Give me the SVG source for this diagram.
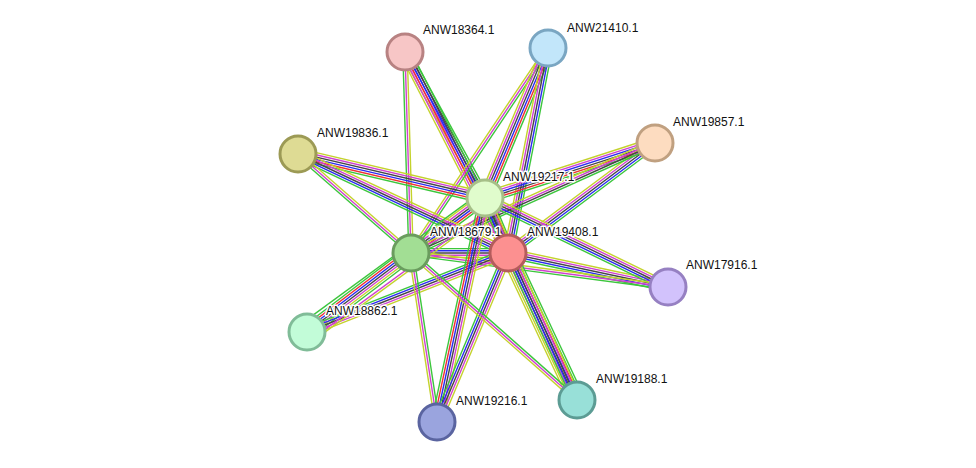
<svg xmlns="http://www.w3.org/2000/svg" width="976" height="468" viewBox="0 0 976 468">
<style>
line{stroke-width:1.4;fill:none}
.g{stroke:#3cc63c}.r{stroke:#f03030}.b{stroke:#2a2af0}.k{stroke:#454545}.m{stroke:#d040d0}.y{stroke:#c4d22c}
circle{stroke-width:3}
text{font-family:"Liberation Sans",Arial,sans-serif;font-size:12px;fill:#111;stroke:#fff;stroke-width:3;paint-order:stroke;stroke-linejoin:round}
</style>
<rect width="976" height="468" fill="#fff"/>
<g id="edges">
<g transform="translate(485,198) rotate(143.4)"><line class="g" x2="92.2" y1="-5.5" y2="-5.5"/><line class="r" x2="92.2" y1="-3.3" y2="-3.3"/><line class="b" x2="92.2" y1="-1.1" y2="-1.1"/><line class="k" x2="92.2" y1="1.1" y2="1.1"/><line class="m" x2="92.2" y1="3.3" y2="3.3"/><line class="y" x2="92.2" y1="5.5" y2="5.5"/></g>
<g transform="translate(485,198) rotate(67.3)"><line class="g" x2="59.6" y1="-6.6" y2="-6.6"/><line class="r" x2="59.6" y1="-4.4" y2="-4.4"/><line class="b" x2="59.6" y1="-2.2" y2="-2.2"/><line class="k" x2="59.6" y1="0" y2="0"/><line class="k" x2="59.6" y1="2.2" y2="2.2"/><line class="m" x2="59.6" y1="4.4" y2="4.4"/><line class="y" x2="59.6" y1="6.6" y2="6.6"/></g>
<g transform="translate(411,253) rotate(0)"><line class="g" x2="97" y1="-4.4" y2="-4.4"/><line class="b" x2="97" y1="-2.2" y2="-2.2"/><line class="k" x2="97" y1="0" y2="0"/><line class="m" x2="97" y1="2.2" y2="2.2"/><line class="y" x2="97" y1="4.4" y2="4.4"/></g>
<g transform="translate(405,52) rotate(88.3)"><line class="y" x2="201.1" y1="-2.2" y2="-2.2"/><line class="m" x2="201.1" y1="0" y2="0"/><line class="g" x2="201.1" y1="2.2" y2="2.2"/></g>
<g transform="translate(405,52) rotate(61.3)"><line class="g" x2="166.5" y1="-4.4" y2="-4.4"/><line class="k" x2="166.5" y1="-2.2" y2="-2.2"/><line class="b" x2="166.5" y1="0" y2="0"/><line class="m" x2="166.5" y1="2.2" y2="2.2"/><line class="y" x2="166.5" y1="4.4" y2="4.4"/></g>
<g transform="translate(405,52) rotate(62.9)"><line class="g" x2="225.9" y1="-5.5" y2="-5.5"/><line class="k" x2="225.9" y1="-3.3" y2="-3.3"/><line class="b" x2="225.9" y1="-1.1" y2="-1.1"/><line class="r" x2="225.9" y1="1.1" y2="1.1"/><line class="m" x2="225.9" y1="3.3" y2="3.3"/><line class="y" x2="225.9" y1="5.5" y2="5.5"/></g>
<g transform="translate(548,48) rotate(123.8)"><line class="g" x2="246.6" y1="-2.2" y2="-2.2"/><line class="m" x2="246.6" y1="0" y2="0"/><line class="y" x2="246.6" y1="2.2" y2="2.2"/></g>
<g transform="translate(548,48) rotate(112.8)"><line class="g" x2="162.7" y1="-5.5" y2="-5.5"/><line class="r" x2="162.7" y1="-3.3" y2="-3.3"/><line class="b" x2="162.7" y1="-1.1" y2="-1.1"/><line class="k" x2="162.7" y1="1.1" y2="1.1"/><line class="m" x2="162.7" y1="3.3" y2="3.3"/><line class="y" x2="162.7" y1="5.5" y2="5.5"/></g>
<g transform="translate(548,48) rotate(101)"><line class="g" x2="208.9" y1="-4.4" y2="-4.4"/><line class="b" x2="208.9" y1="-2.2" y2="-2.2"/><line class="k" x2="208.9" y1="0" y2="0"/><line class="m" x2="208.9" y1="2.2" y2="2.2"/><line class="y" x2="208.9" y1="4.4" y2="4.4"/></g>
<g transform="translate(655,143) rotate(162.1)"><line class="g" x2="178.7" y1="-5.5" y2="-5.5"/><line class="r" x2="178.7" y1="-3.3" y2="-3.3"/><line class="k" x2="178.7" y1="-1.1" y2="-1.1"/><line class="b" x2="178.7" y1="1.1" y2="1.1"/><line class="m" x2="178.7" y1="3.3" y2="3.3"/><line class="y" x2="178.7" y1="5.5" y2="5.5"/></g>
<g transform="translate(655,143) rotate(143.2)"><line class="g" x2="183.6" y1="-4.4" y2="-4.4"/><line class="b" x2="183.6" y1="-2.2" y2="-2.2"/><line class="k" x2="183.6" y1="0" y2="0"/><line class="m" x2="183.6" y1="2.2" y2="2.2"/><line class="y" x2="183.6" y1="4.4" y2="4.4"/></g>
<g transform="translate(655,143) rotate(155.7)"><line class="g" x2="267.6" y1="-3.3" y2="-3.3"/><line class="k" x2="267.6" y1="-1.1" y2="-1.1"/><line class="m" x2="267.6" y1="1.1" y2="1.1"/><line class="y" x2="267.6" y1="3.3" y2="3.3"/></g>
<g transform="translate(668,287) rotate(-168)"><line class="g" x2="163.6" y1="-4.4" y2="-4.4"/><line class="b" x2="163.6" y1="-2.2" y2="-2.2"/><line class="k" x2="163.6" y1="0" y2="0"/><line class="m" x2="163.6" y1="2.2" y2="2.2"/><line class="y" x2="163.6" y1="4.4" y2="4.4"/></g>
<g transform="translate(668,287) rotate(-154.1)"><line class="g" x2="203.5" y1="-4.4" y2="-4.4"/><line class="b" x2="203.5" y1="-2.2" y2="-2.2"/><line class="k" x2="203.5" y1="0" y2="0"/><line class="m" x2="203.5" y1="2.2" y2="2.2"/><line class="y" x2="203.5" y1="4.4" y2="4.4"/></g>
<g transform="translate(668,287) rotate(-172.5)"><line class="g" x2="259.2" y1="-2.2" y2="-2.2"/><line class="m" x2="259.2" y1="0" y2="0"/><line class="y" x2="259.2" y1="2.2" y2="2.2"/></g>
<g transform="translate(298,154) rotate(13.2)"><line class="y" x2="192.1" y1="-5.5" y2="-5.5"/><line class="m" x2="192.1" y1="-3.3" y2="-3.3"/><line class="k" x2="192.1" y1="-1.1" y2="-1.1"/><line class="b" x2="192.1" y1="1.1" y2="1.1"/><line class="r" x2="192.1" y1="3.3" y2="3.3"/><line class="g" x2="192.1" y1="5.5" y2="5.5"/></g>
<g transform="translate(298,154) rotate(25.2)"><line class="y" x2="232.2" y1="-4.4" y2="-4.4"/><line class="m" x2="232.2" y1="-2.2" y2="-2.2"/><line class="k" x2="232.2" y1="0" y2="0"/><line class="b" x2="232.2" y1="2.2" y2="2.2"/><line class="g" x2="232.2" y1="4.4" y2="4.4"/></g>
<g transform="translate(298,154) rotate(41.2)"><line class="y" x2="150.2" y1="-2.2" y2="-2.2"/><line class="m" x2="150.2" y1="0" y2="0"/><line class="g" x2="150.2" y1="2.2" y2="2.2"/></g>
<g transform="translate(307,332) rotate(-37.2)"><line class="g" x2="130.6" y1="-6.6" y2="-6.6"/><line class="r" x2="130.6" y1="-4.4" y2="-4.4"/><line class="b" x2="130.6" y1="-2.2" y2="-2.2"/><line class="k" x2="130.6" y1="0" y2="0"/><line class="m" x2="130.6" y1="2.2" y2="2.2"/><line class="y" x2="130.6" y1="4.4" y2="4.4"/><line class="g" x2="130.6" y1="6.6" y2="6.6"/></g>
<g transform="translate(307,332) rotate(-21.5)"><line class="g" x2="216" y1="-4.4" y2="-4.4"/><line class="b" x2="216" y1="-2.2" y2="-2.2"/><line class="k" x2="216" y1="0" y2="0"/><line class="m" x2="216" y1="2.2" y2="2.2"/><line class="y" x2="216" y1="4.4" y2="4.4"/></g>
<g transform="translate(307,332) rotate(-36.2)"><line class="g" x2="222.8" y1="-10" y2="-10"/><line class="m" x2="222.8" y1="8.5" y2="8.5"/><line class="y" x2="222.8" y1="10.7" y2="10.7"/></g>
<g transform="translate(437,422) rotate(-98.7)"><line class="y" x2="171" y1="-2.2" y2="-2.2"/><line class="m" x2="171" y1="0" y2="0"/><line class="g" x2="171" y1="2.2" y2="2.2"/></g>
<g transform="translate(437,422) rotate(-77.9)"><line class="g" x2="229.1" y1="-5.5" y2="-5.5"/><line class="r" x2="229.1" y1="-3.3" y2="-3.3"/><line class="b" x2="229.1" y1="-1.1" y2="-1.1"/><line class="k" x2="229.1" y1="1.1" y2="1.1"/><line class="m" x2="229.1" y1="3.3" y2="3.3"/><line class="y" x2="229.1" y1="5.5" y2="5.5"/></g>
<g transform="translate(437,422) rotate(-67.2)"><line class="g" x2="183.3" y1="-4.4" y2="-4.4"/><line class="b" x2="183.3" y1="-2.2" y2="-2.2"/><line class="k" x2="183.3" y1="0" y2="0"/><line class="m" x2="183.3" y1="2.2" y2="2.2"/><line class="y" x2="183.3" y1="4.4" y2="4.4"/></g>
<g transform="translate(577,400) rotate(-115.1)"><line class="y" x2="162.4" y1="-7.7" y2="-7.7"/><line class="y" x2="162.4" y1="-5.5" y2="-5.5"/><line class="m" x2="162.4" y1="-3.3" y2="-3.3"/><line class="k" x2="162.4" y1="-1.1" y2="-1.1"/><line class="b" x2="162.4" y1="1.1" y2="1.1"/><line class="r" x2="162.4" y1="3.3" y2="3.3"/><line class="g" x2="162.4" y1="5.5" y2="5.5"/><line class="g" x2="162.4" y1="7.7" y2="7.7"/></g>
<g transform="translate(577,400) rotate(-138.5)"><line class="y" x2="221.7" y1="-2.2" y2="-2.2"/><line class="m" x2="221.7" y1="0" y2="0"/><line class="g" x2="221.7" y1="2.2" y2="2.2"/></g>
<g transform="translate(577,400) rotate(-114.5)"><line class="g" x2="222" y1="-4.4" y2="-4.4"/><line class="b" x2="222" y1="-2.2" y2="-2.2"/><line class="k" x2="222" y1="0" y2="0"/><line class="m" x2="222" y1="2.2" y2="2.2"/><line class="y" x2="222" y1="4.4" y2="4.4"/></g>
</g>
<g id="n-ANW18364"><circle cx="405" cy="52" r="18" fill="#f7c6c6" stroke="#b88282"/><text x="423" y="34">ANW18364.1</text></g>
<g id="n-ANW21410"><circle cx="548" cy="48" r="18" fill="#c2e6fa" stroke="#7aa6c2"/><text x="567" y="32">ANW21410.1</text></g>
<g id="n-ANW19857"><circle cx="655" cy="143" r="18" fill="#fddcc0" stroke="#c0a080"/><text x="673" y="126">ANW19857.1</text></g>
<g id="n-ANW19836"><circle cx="298" cy="154" r="18" fill="#dedb94" stroke="#9c9a55"/><text x="317" y="137">ANW19836.1</text></g>
<g id="n-ANW19217"><circle cx="485" cy="198" r="18" fill="#e0fccc" stroke="#a6bf88"/><text x="503" y="181">ANW19217.1</text></g>
<g id="n-ANW18679"><circle cx="411" cy="253" r="18" fill="#a2de94" stroke="#6a9c5e"/><text x="430" y="236">ANW18679.1</text></g>
<g id="n-ANW19408"><circle cx="508" cy="253" r="18" fill="#fc9090" stroke="#b45c5c"/><text x="527" y="236">ANW19408.1</text></g>
<g id="n-ANW17916"><circle cx="668" cy="287" r="18" fill="#d2c2fc" stroke="#9680c2"/><text x="686" y="269">ANW17916.1</text></g>
<g id="n-ANW18862"><circle cx="307" cy="332" r="18" fill="#c2fcd8" stroke="#80bc98"/><text x="326" y="315">ANW18862.1</text></g>
<g id="n-ANW19216"><circle cx="437" cy="422" r="18" fill="#9aa4de" stroke="#5a64a0"/><text x="456" y="405">ANW19216.1</text></g>
<g id="n-ANW19188"><circle cx="577" cy="400" r="18" fill="#98e0d8" stroke="#5c9c94"/><text x="596" y="383">ANW19188.1</text></g>
</svg>
